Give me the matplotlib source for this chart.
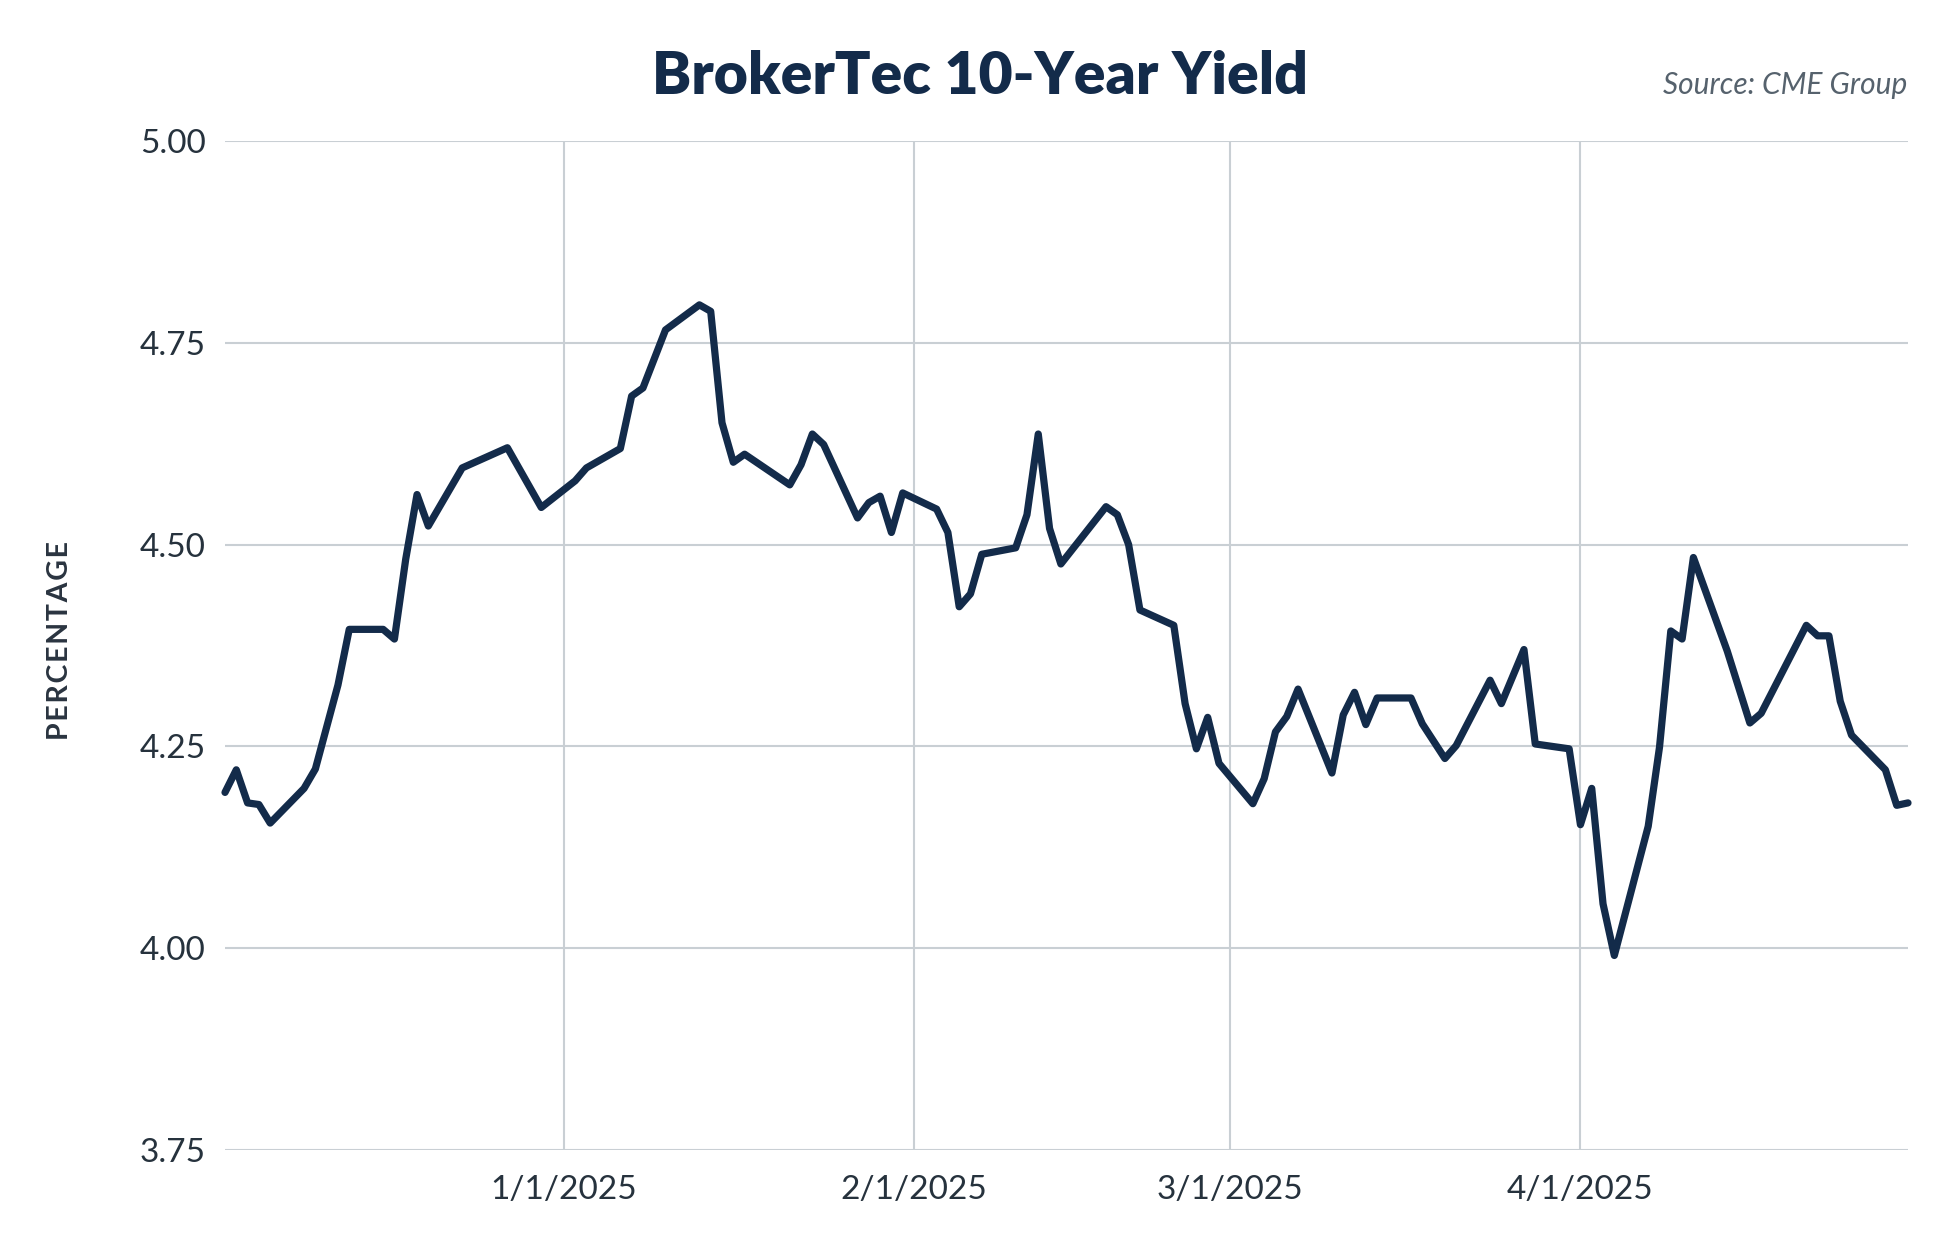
import matplotlib
matplotlib.use('Agg')
import matplotlib.dates as mdates
import matplotlib.pyplot as plt
import numpy as np
import pandas as pd

# BrokerTec 10-year yield, business days
dates = [
    '2024-12-02', '2024-12-03', '2024-12-04', '2024-12-05', '2024-12-06',
    '2024-12-09', '2024-12-10', '2024-12-12', '2024-12-13', '2024-12-16',
    '2024-12-17', '2024-12-18', '2024-12-19', '2024-12-20', '2024-12-23',
    '2024-12-27', '2024-12-30', '2025-01-02', '2025-01-03', '2025-01-06',
    '2025-01-07', '2025-01-08', '2025-01-10', '2025-01-13', '2025-01-14',
    '2025-01-15', '2025-01-16', '2025-01-17', '2025-01-21', '2025-01-22',
    '2025-01-23', '2025-01-24', '2025-01-27', '2025-01-28', '2025-01-29',
    '2025-01-30', '2025-01-31', '2025-02-03', '2025-02-04', '2025-02-05',
    '2025-02-06', '2025-02-07', '2025-02-10', '2025-02-11', '2025-02-12',
    '2025-02-13', '2025-02-14', '2025-02-18', '2025-02-19', '2025-02-20',
    '2025-02-21', '2025-02-24', '2025-02-25', '2025-02-26', '2025-02-27',
    '2025-02-28', '2025-03-03', '2025-03-04', '2025-03-05', '2025-03-06',
    '2025-03-07', '2025-03-10', '2025-03-11', '2025-03-12', '2025-03-13',
    '2025-03-14', '2025-03-17', '2025-03-18', '2025-03-20', '2025-03-21',
    '2025-03-24', '2025-03-25', '2025-03-27', '2025-03-28', '2025-03-31',
    '2025-04-01', '2025-04-02', '2025-04-03', '2025-04-04', '2025-04-07',
    '2025-04-08', '2025-04-09', '2025-04-10', '2025-04-11', '2025-04-14',
    '2025-04-16', '2025-04-17', '2025-04-21', '2025-04-22', '2025-04-23',
    '2025-04-24', '2025-04-25', '2025-04-28', '2025-04-29', '2025-04-30',
]
yields = [
    4.193, 4.221, 4.180, 4.178, 4.155,
    4.198, 4.222, 4.326, 4.395, 4.395,
    4.383, 4.482, 4.562, 4.523, 4.595,
    4.620, 4.546, 4.579, 4.595, 4.619,
    4.684, 4.694, 4.766, 4.797, 4.789,
    4.651, 4.602, 4.612, 4.574, 4.599,
    4.637, 4.624, 4.533, 4.552, 4.560,
    4.515, 4.564, 4.544, 4.515, 4.423,
    4.439, 4.488, 4.496, 4.537, 4.637,
    4.520, 4.476, 4.547, 4.537, 4.500,
    4.419, 4.400, 4.303, 4.247, 4.286,
    4.229, 4.179, 4.210, 4.268, 4.287,
    4.321, 4.217, 4.289, 4.317, 4.277,
    4.310, 4.310, 4.278, 4.235, 4.251,
    4.332, 4.303, 4.370, 4.253, 4.247,
    4.153, 4.198, 4.055, 3.991, 4.151,
    4.249, 4.393, 4.383, 4.484, 4.368,
    4.279, 4.291, 4.400, 4.387, 4.387,
    4.306, 4.264, 4.221, 4.177, 4.180,
]
y_ticks = [3.75, 4.00, 4.25, 4.50, 4.75, 5.00]
month_ticks = ['2025-01-01', '2025-02-01', '2025-03-01', '2025-04-01']

NAVY = '#132b4a'
GRID = '#c9cfd4'
TEXT = '#26323d'

plt.rcParams['font.family'] = ['Lato', 'DejaVu Sans']

x = pd.to_datetime(dates)
fig = plt.figure(figsize=(19.59, 12.5), dpi=100)
ax = fig.add_axes([225 / 1959, 1 - 1150 / 1250, 1683 / 1959, 1009 / 1250])

ax.plot(x, yields, color=NAVY, lw=5.2, solid_joinstyle='round',
        solid_capstyle='round', clip_on=False, zorder=3)

ax.set_xlim(x[0], x[-1])
ax.set_ylim(3.75, 5.00)
ax.set_yticks(y_ticks)
ax.set_yticklabels([f'{v:.2f}' for v in y_ticks])
ax.set_xticks(pd.to_datetime(month_ticks))
ax.xaxis.set_major_formatter(
    matplotlib.ticker.FuncFormatter(
        lambda v, _: '{d.month}/{d.day}/{d.year}'.format(d=mdates.num2date(v))))

ax.grid(True, color=GRID, lw=1.5)
ax.set_axisbelow(True)
for s in ax.spines.values():
    s.set_visible(False)
ax.tick_params(length=0, labelsize=24, labelcolor=TEXT)
ax.tick_params(axis='y', pad=14)
ax.tick_params(axis='x', pad=18)

fig.text(0.5, 1 - 76 / 1250, 'BrokerTec 10-Year Yield', ha='center',
         va='center', fontsize=42.3, fontweight='heavy', color=NAVY)
fig.text(1907 / 1959, 1 - 85 / 1250, 'Source: CME Group', ha='right',
         va='center', fontsize=21.5, style='italic', color='#56626d')
# wide letter spacing on the axis title
ylab = '\u200a'.join('PERCENTAGE')
fig.text(60 / 1959, 1 - 641 / 1250, ylab, rotation=90, ha='center',
         va='center', fontsize=20.5, fontweight='bold', color='#2a3440')

fig.savefig('out.png', dpi=100)
